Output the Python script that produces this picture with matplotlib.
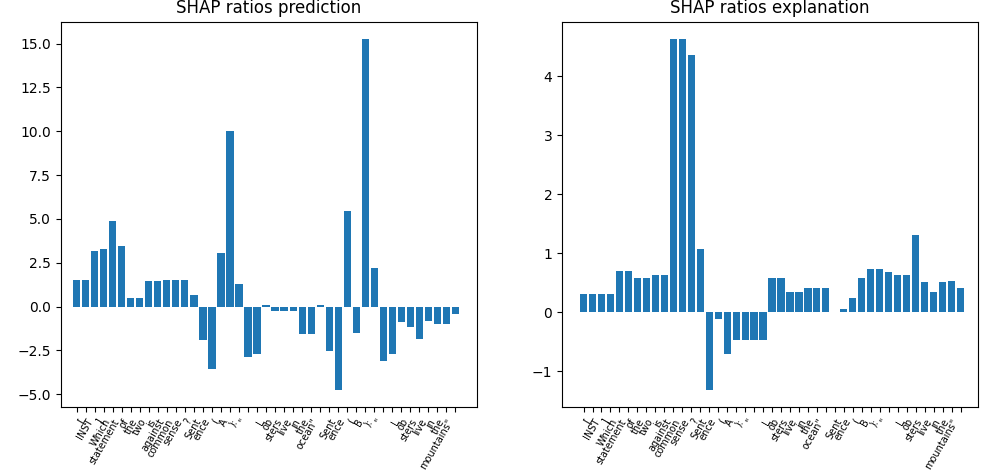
import matplotlib
matplotlib.use('Agg')
import matplotlib.pyplot as plt

# tokens of the prompt (one bar per token)
tokens = ["", "[", "INST", "]", "Which", "statement", "of", "the", "two", "is",
          "against", "common", "sense", "?", "Sent", "ence", "(", "A", "):", '"',
          "", "L", "ob", "sters", "live", "in", "the", 'ocean"', "",
          "Sent", "ence", "(", "B", "):", '"', "", "L", "ob", "sters", "live",
          "in", "the", 'mountains"']

# SHAP ratios
ratios_prediction = [1.5, 1.5, 3.14, 3.26, 4.86, 3.43, 0.51, 0.51, 1.43, 1.43,
                     1.49, 1.49, 1.49, 0.63, -1.89, -3.54, 3.03, 10.0, 1.31, -2.86,
                     -2.69, 0.06, -0.23, -0.23, -0.23, -1.54, -1.54, 0.06, -2.51, -4.74,
                     5.43, -1.49, 15.24, 2.17, -3.09, -2.69, -0.86, -1.14, -1.83, -0.8,
                     -0.97, -0.97, -0.40]
ratios_explanation = [0.32, 0.32, 0.32, 0.32, 0.71, 0.71, 0.58, 0.58, 0.63, 0.63,
                      4.63, 4.63, 4.36, 1.07, -1.31, -0.12, -0.71, -0.47, -0.47, -0.47,
                      -0.47, 0.59, 0.59, 0.34, 0.34, 0.42, 0.42, 0.42, 0.0, 0.05,
                      0.25, 0.58, 0.73, 0.73, 0.69, 0.64, 0.63, 1.31, 0.51, 0.34,
                      0.51, 0.54, 0.42]

fig, (ax1, ax2) = plt.subplots(1, 2, figsize=(9.93, 4.74), dpi=100)
fig.subplots_adjust(left=0.0614, right=0.985, top=0.954, bottom=0.141, wspace=0.204)
x = list(range(len(tokens)))

ax1.bar(x, ratios_prediction)
ax1.set_xticks(x)
ax1.set_xticklabels(tokens, rotation=60, ha='right', fontsize=7)
ax1.set_xlim(-1.74, 44.4)
ax1.set_title("SHAP ratios prediction")

ax2.bar(x, ratios_explanation)
ax2.set_xticks(x)
ax2.set_xticklabels(tokens, rotation=60, ha='right', fontsize=7)
ax2.set_xlim(-2.4, 43.96)
ax2.set_title("SHAP ratios explanation")

plt.savefig('out.png', dpi=100)
